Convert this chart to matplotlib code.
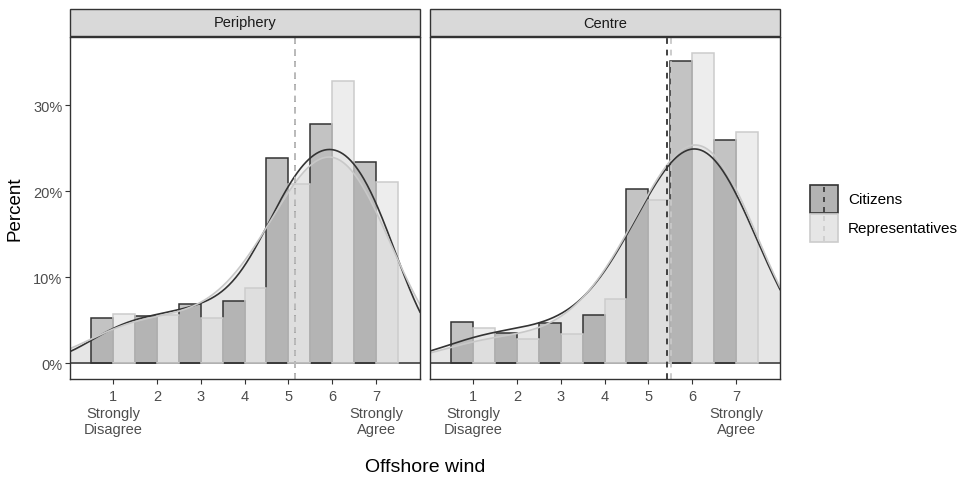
import numpy as np
import matplotlib.pyplot as plt
from matplotlib.patches import Rectangle
from matplotlib.lines import Line2D

plt.rcParams['font.family'] = ['Liberation Sans', 'DejaVu Sans']

# ---------------- data ----------------
categories = [1, 2, 3, 4, 5, 6, 7]
tick_labels = ['1\nStrongly\nDisagree', '2', '3', '4', '5', '6', '7\nStrongly\nAgree']
panels = ['Periphery', 'Centre']
groups = ['Citizens', 'Representatives']

periphery_citizens = [5.3, 5.5, 6.9, 7.2, 23.9, 27.8, 23.4]
periphery_representatives = [5.7, 5.6, 5.3, 8.8, 20.8, 32.8, 21.1]
centre_citizens = [4.8, 3.5, 4.7, 5.6, 20.2, 35.1, 26.0]
centre_representatives = [4.1, 2.8, 3.4, 7.5, 19.0, 36.1, 26.9]

data = {
    ('Periphery', 'Citizens'): periphery_citizens,
    ('Periphery', 'Representatives'): periphery_representatives,
    ('Centre', 'Citizens'): centre_citizens,
    ('Centre', 'Representatives'): centre_representatives,
}
# smoothing bandwidths of the density curves
bandwidths = {
    ('Periphery', 'Citizens'): 0.8,
    ('Periphery', 'Representatives'): 0.98,
    ('Centre', 'Citizens'): 1.05,
    ('Centre', 'Representatives'): 1.05,
}

# ---------------- styles ----------------
style = {
    'Citizens': dict(fill='#6b6b6b', edge='#333333', line='#333333'),
    'Representatives': dict(fill='#d4d4d4', edge='#cccccc', line='#c8c8c8'),
}

W, H = 966, 481
fig = plt.figure(figsize=(W / 100, H / 100), dpi=100)


def fx(px):
    return px / W


def fy(py):
    return 1 - py / H


panel_px = [(70, 420), (430, 780)]
top_px, bot_px = 38, 380
ymax = max(max(v) for v in data.values())
ylim = (-0.05 * ymax, 1.05 * ymax)
xlim = (0.02, 8.0)
xs = np.linspace(xlim[0], xlim[1], 400)
cats = np.array(categories, dtype=float)


def wkde(x, w, h):
    w = np.asarray(w, dtype=float)
    w = w / w.sum()
    z = (x[:, None] - cats[None, :]) / h
    return 100 * (w[None, :] * np.exp(-0.5 * z ** 2) / (h * np.sqrt(2 * np.pi))).sum(axis=1)


for pi, panel in enumerate(panels):
    l, r = panel_px[pi]
    ax = fig.add_axes([fx(l), fy(bot_px), (r - l) / W, (bot_px - top_px) / H])
    ax.set_xlim(*xlim)
    ax.set_ylim(*ylim)

    # density fills
    for g in groups:
        d = wkde(xs, data[(panel, g)], bandwidths[(panel, g)])
        ax.fill_between(xs, 0, d, color='#808080', alpha=0.1, lw=0, zorder=1)
    ax.axhline(0, color='#333333', lw=1.1, zorder=1.5)

    # dodged bars
    for gi, g in enumerate(groups):
        vals = data[(panel, g)]
        off = -0.25 if gi == 0 else 0.25
        ax.bar(cats + off, vals, width=0.5, color=style[g]['fill'], alpha=0.4,
               edgecolor='none', zorder=2)
        ax.bar(cats + off, vals, width=0.5, fill=False,
               edgecolor=style[g]['edge'], lw=1.1, zorder=2.1)

    # density lines
    for g in groups:
        d = wkde(xs, data[(panel, g)], bandwidths[(panel, g)])
        ax.plot(xs, d, color=style[g]['line'], lw=1.2, zorder=3)

    # means
    for g in groups:
        w = np.asarray(data[(panel, g)], dtype=float)
        m = (w * cats).sum() / w.sum()
        ax.axvline(m, color=style[g]['line'], lw=1.3, ls=(0, (3.2, 3.2)), zorder=4)

    ax.set_xticks(categories)
    ax.set_xticklabels(tick_labels, linespacing=1.22)
    ax.set_yticks([0, 10, 20, 30])
    ax.tick_params(axis='both', colors='#333333', labelcolor='#4d4d4d',
                   labelsize=10.5, length=3.5, width=0.8)
    ax.tick_params(axis='x', pad=4)
    ax.tick_params(axis='y', pad=2)
    if pi == 0:
        ax.set_yticklabels(['0%', '10%', '20%', '30%'])
    else:
        ax.set_yticklabels([])
        ax.tick_params(axis='y', length=0)
    for s in ax.spines.values():
        s.set_color('#333333')
        s.set_linewidth(1.0)
        s.set_zorder(6)

    # strip
    fig.patches.append(Rectangle((fx(l), fy(37)), (r - l) / W, 27 / H,
                                 transform=fig.transFigure, facecolor='#d9d9d9',
                                 edgecolor='#333333', lw=1.0))
    fig.text(fx((l + r) / 2), fy(23.5), panel, ha='center', va='center',
             fontsize=10.5, color='#1a1a1a')

# axis titles
fig.text(fx(15), fy((top_px + bot_px) / 2), 'Percent', rotation=90,
         ha='center', va='center', fontsize=13.5, color='black')
fig.text(fx(425), fy(468), 'Offshore wind', ha='center', va='center',
         fontsize=14, color='black')

# legend
leg = [('Citizens', '#b3b3b3', '#333333', 186),
       ('Representatives', '#e6e6e6', '#cccccc', 215)]
for name, fc, ec, y0 in leg:
    fig.patches.append(Rectangle((fx(810), fy(y0 + 28)), 28 / W, 28 / H,
                                 transform=fig.transFigure, facecolor=fc,
                                 edgecolor=ec, lw=1.2))
    fig.lines.append(Line2D([fx(824), fx(824)], [fy(y0 + 27), fy(y0 + 1)],
                            transform=fig.transFigure, color=ec, lw=1.2,
                            ls=(0, (3, 3))))
    fig.text(fx(848), fy(y0 + 14), name, ha='left', va='center',
             fontsize=11, color='black')

fig.savefig('out.png', dpi=100)
